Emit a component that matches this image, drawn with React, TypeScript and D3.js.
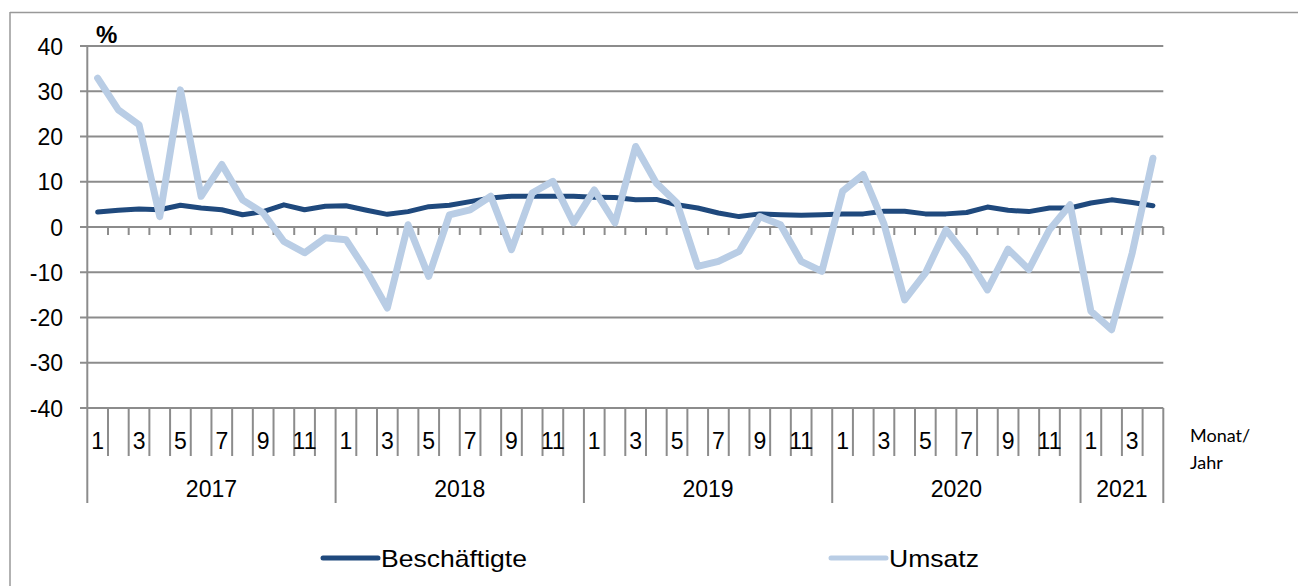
import React from "react";
import * as d3 from "d3";

const years = ["2017", "2018", "2019", "2020", "2021"];
const monthsPerYear = [12, 12, 12, 12, 4];
const yTicks = [40, 30, 20, 10, 0, -10, -20, -30, -40];

const beschaeftigte = [
  3.3, 3.7, 4.0, 3.8, 4.8, 4.2, 3.8, 2.7, 3.4, 4.9, 3.8, 4.6,
  4.7, 3.7, 2.8, 3.4, 4.5, 4.8, 5.6, 6.4, 6.8, 6.8, 6.8, 6.8,
  6.6, 6.5, 6.0, 6.1, 4.9, 4.2, 3.1, 2.3, 2.9, 2.7, 2.6, 2.7,
  2.9, 2.9, 3.5, 3.5, 2.9, 2.9, 3.2, 4.4, 3.7, 3.4, 4.2, 4.2,
  5.3, 6.0, 5.4, 4.7,
];
const umsatz = [
  32.9, 25.9, 22.6, 2.3, 30.3, 6.8, 13.8, 6.0, 3.1, -3.2, -5.7, -2.4,
  -2.8, -9.8, -17.9, 0.5, -10.9, 2.7, 3.8, 6.8, -5.0, 7.5, 10.1, 0.9,
  8.2, 0.9, 17.8, 9.7, 5.3, -8.7, -7.6, -5.4, 2.3, 0.5, -7.6, -9.8,
  7.9, 11.6, 0.7, -16.1, -10.2, -0.6, -6.5, -13.9, -4.9, -9.4, -0.6, 4.9,
  -18.6, -22.7, -5.7, 15.2,
];

const seriesNames = ["Beschäftigte", "Umsatz"];
const colors = ["#1F497D", "#B9CDE5"];

export default function App() {
  const W = 1298;
  const H = 586;
  const left = 87.3;
  const right = 1163.3;
  const top = 46;
  const bottom = 408;
  const n = beschaeftigte.length;

  const x = d3
    .scaleBand<number>()
    .domain(d3.range(n))
    .range([left, right])
    .paddingInner(0)
    .paddingOuter(0);
  const bw = x.bandwidth();
  const cx = (i: number) => (x(i) as number) + bw / 2;
  const y = d3.scaleLinear().domain([-40, 40]).range([bottom, top]);

  const line = d3
    .line<number>()
    .x((_, i) => cx(i))
    .y((d) => y(d));

  const monthLabels: { i: number; m: number }[] = [];
  let idx = 0;
  const yearStarts: number[] = [];
  monthsPerYear.forEach((cnt) => {
    yearStarts.push(idx);
    for (let m = 1; m <= cnt; m++) {
      monthLabels.push({ i: idx, m });
      idx++;
    }
  });
  yearStarts.push(idx);
  const isYearBoundary = (k: number) => yearStarts.includes(k);

  const grid = "#8C8C8C";
  const font = "Liberation Sans, Arial, sans-serif";

  return (
    <svg
      width={W}
      height={H}
      style={{ position: "absolute", left: 0, top: 0, background: "#fff" }}
    >
      {/* outer frame */}
      <line x1={10} y1={12.5} x2={W} y2={12.5} stroke="#999" strokeWidth={1.5} />
      <line x1={10} y1={12} x2={10} y2={H} stroke="#999" strokeWidth={1.5} />

      {/* gridlines + y ticks */}
      {yTicks.map((t) => (
        <g key={t}>
          <line x1={80} x2={right} y1={y(t)} y2={y(t)} stroke={grid} strokeWidth={2} />
          <text
            x={63}
            y={y(t) + 8.5}
            textAnchor="end"
            fontFamily={font}
            fontSize={23}
            fill="#000"
          >
            {t}
          </text>
        </g>
      ))}

      {/* y axis line */}
      <line x1={left} x2={left} y1={top} y2={503} stroke={grid} strokeWidth={2} />

      {/* zero-axis tick marks */}
      {d3.range(1, n + 1).map((k) => {
        const xx = k === n ? right : (x(k) as number);
        return (
          <line key={"zt" + k} x1={xx} x2={xx} y1={y(0)} y2={y(0) + 8} stroke={grid} strokeWidth={2} />
        );
      })}

      {/* category separators */}
      {d3.range(1, n + 1).map((k) => {
        const xx = k === n ? right : (x(k) as number);
        return (
          <line
            key={"sep" + k}
            x1={xx}
            x2={xx}
            y1={bottom}
            y2={isYearBoundary(k) ? 503 : 456}
            stroke={grid}
            strokeWidth={2}
          />
        );
      })}

      {/* month labels */}
      {monthLabels
        .filter((d) => d.m % 2 === 1)
        .map((d) => (
          <text
            key={"m" + d.i}
            x={cx(d.i)}
            y={448.5}
            textAnchor="middle"
            fontFamily={font}
            fontSize={23}
            fill="#000"
          >
            {d.m}
          </text>
        ))}

      {/* year labels */}
      {years.map((yr, j) => {
        const x0 = x(yearStarts[j]) as number;
        const x1 = yearStarts[j + 1] === n ? right : (x(yearStarts[j + 1]) as number);
        return (
          <text
            key={yr}
            x={(x0 + x1) / 2}
            y={496.5}
            textAnchor="middle"
            fontFamily={font}
            fontSize={23}
            fill="#000"
          >
            {yr}
          </text>
        );
      })}

      {/* Monat/Jahr */}
      <text x={1190} y={442} fontFamily="Lato, 'Open Sans', sans-serif" fontSize={18} fill="#000">
        Monat/
      </text>
      <text x={1190} y={468.5} fontFamily="Lato, 'Open Sans', sans-serif" fontSize={18} fill="#000">
        Jahr
      </text>

      {/* % */}
      <text x={96} y={42.5} fontFamily={font} fontSize={24} fontWeight="bold" fill="#000">
        %
      </text>

      {/* series */}
      <path
        d={line(beschaeftigte) || ""}
        fill="none"
        stroke={colors[0]}
        strokeWidth={5}
        strokeLinejoin="round"
        strokeLinecap="round"
      />
      <path
        d={line(umsatz) || ""}
        fill="none"
        stroke={colors[1]}
        strokeWidth={7}
        strokeLinejoin="round"
        strokeLinecap="round"
      />

      {/* legend */}
      {[
        { x0: 323, x1: 378, tx: 381, tl: 146 },
        { x0: 831, x1: 886, tx: 889, tl: 90 },
      ].map((l, j) => (
        <g key={"leg" + j}>
          <line
            x1={l.x0}
            x2={l.x1}
            y1={558}
            y2={558}
            stroke={colors[j]}
            strokeWidth={5}
            strokeLinecap="round"
          />
          <text
            x={l.tx}
            y={566.5}
            fontFamily={font}
            fontSize={24}
            textLength={l.tl}
            lengthAdjust="spacingAndGlyphs"
            fill="#000"
          >
            {seriesNames[j]}
          </text>
        </g>
      ))}
    </svg>
  );
}
